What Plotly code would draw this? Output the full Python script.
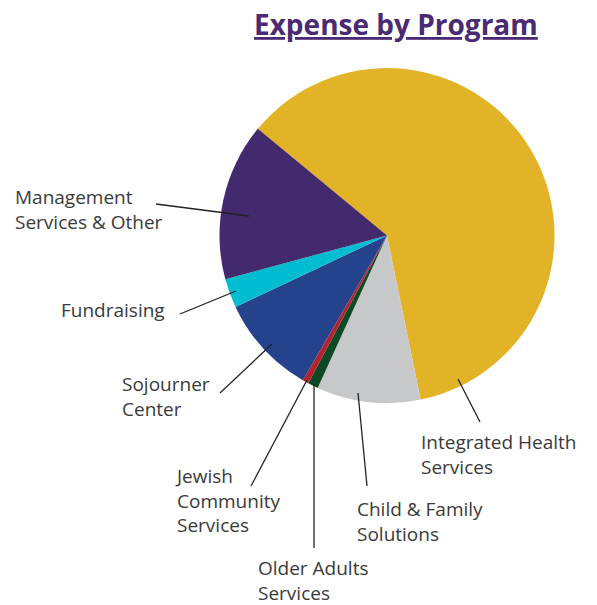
import plotly.graph_objects as go

# ---- data (percent of total expense) ----
programs = [
    "Integrated Health Services",
    "Child & Family Solutions",
    "Older Adults Services",
    "Jewish Community Services",
    "Sojourner Center",
    "Fundraising",
    "Management Services & Other",
]
shares = [60.8, 10.0, 1.0, 0.6, 9.6, 2.8, 15.2]
colors = ["#E3B327", "#C7C8CA", "#0B4A22", "#B52230", "#25428D", "#00BCD0", "#43296D"]

# label text (with line breaks) for each program
label_texts = [
    "Integrated Health<br>Services",
    "Child & Family<br>Solutions",
    "Older Adults<br>Services",
    "Jewish<br>Community<br>Services",
    "Sojourner<br>Center",
    "Fundraising",
    "Management<br>Services & Other",
]

# ---- layout geometry (pixels in the 597 x 605 window) ----
WIN_W, WIN_H = 597, 605
OFF = 8  # default page body margin
W, H = WIN_W - OFF, WIN_H - OFF
CX, CY, R = 387.0, 235.5, 167.5

def px(x):
    return (x - OFF) / W

def py(y):
    return 1 - (y - OFF) / H

# label block: (left x, vertical centre y); leader line: (x0, y0, x1, y1)
label_pos = [
    (419, 454),
    (355, 521),
    (256, 580),
    (173, 500),
    (120, 396),
    (59, 310),
    (13, 209),
]
leaders = [
    (480, 422, 458, 379),
    (367, 486, 358, 393),
    (314, 548, 314, 384),
    (251, 486, 307, 380),
    (220, 393, 272, 344),
    (180, 314, 236, 291),
    (156, 204, 249, 216),
]

fig = go.Figure(
    go.Pie(
        labels=programs,
        values=shares,
        sort=False,
        direction="clockwise",
        rotation=-50.45,
        marker=dict(colors=colors, line=dict(width=0)),
        textinfo="none",
        hoverinfo="label+percent",
        showlegend=False,
        domain=dict(x=[px(CX - R), px(CX + R)], y=[py(CY + R), py(CY - R)]),
    )
)

annotations = [
    dict(
        text="<b><u>Expense by Program</u></b>",
        x=px(396), y=py(24), xref="paper", yref="paper",
        xanchor="center", yanchor="middle", showarrow=False,
        font=dict(family="Open Sans", size=28, color="#4B2A74"),
    )
]
for txt, (lx, ly) in zip(label_texts, label_pos):
    annotations.append(
        dict(
            text=txt, x=px(lx), y=py(ly), xref="paper", yref="paper",
            xanchor="left", yanchor="middle", align="left", showarrow=False,
            font=dict(family="Open Sans", size=19, color="#3A3A3A"),
        )
    )

shapes = [
    dict(type="line", xref="paper", yref="paper",
         x0=px(x0), y0=py(y0), x1=px(x1), y1=py(y1),
         line=dict(color="#222222", width=1.3))
    for (x0, y0, x1, y1) in leaders
]

fig.update_layout(
    width=W, height=H,
    margin=dict(l=0, r=0, t=0, b=0),
    paper_bgcolor="white", plot_bgcolor="white",
    annotations=annotations, shapes=shapes,
)

fig.write_html("out.html")
